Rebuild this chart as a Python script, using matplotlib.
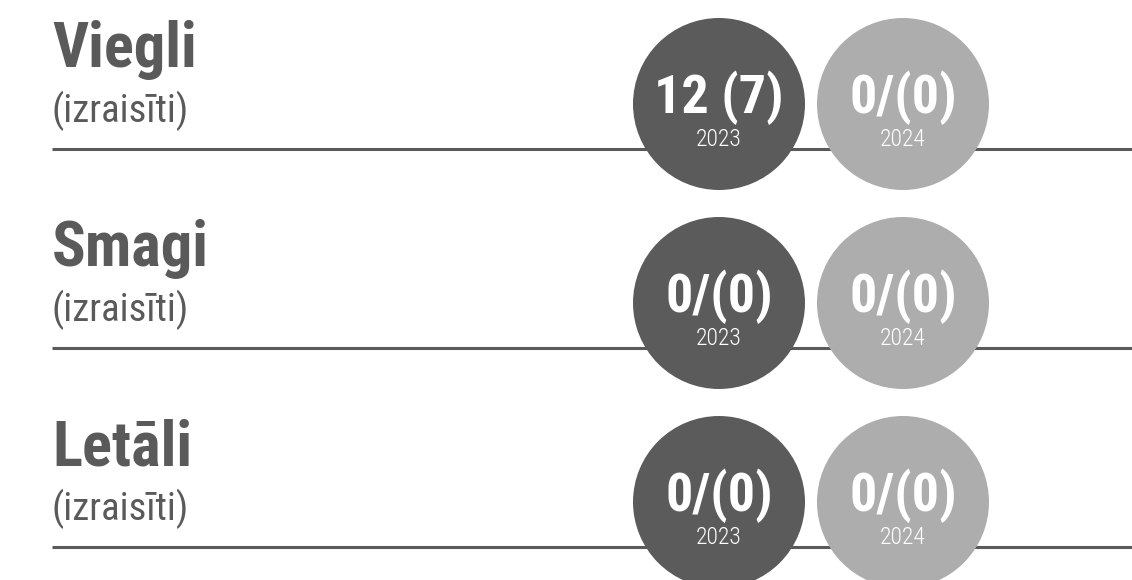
import matplotlib
matplotlib.use("Agg")
import matplotlib.pyplot as plt
from matplotlib.patches import Circle

# data
categories = ["Viegli", "Smagi", "Letāli"]
subtitle = "(izraisīti)"
years = ["2023", "2024"]
values_2023 = ["12 (7)", "0/(0)", "0/(0)"]
values_2024 = ["0/(0)", "0/(0)", "0/(0)"]

FONT = ["Roboto Condensed", "Roboto", "DejaVu Sans"]
DARK = "#5b5b5b"
LIGHT = "#adadad"
TEXT = "#5a5a5a"

W, H = 1132, 580
fig = plt.figure(figsize=(W / 100, H / 100), dpi=100)
ax = fig.add_axes([0, 0, 1, 1])
ax.set_xlim(0, W)
ax.set_ylim(H, 0)
ax.axis("off")

row_gap = 199
for i, cat in enumerate(categories):
    y0 = i * row_gap
    line_y = y0 + 149
    cy = y0 + 104
    ax.plot([52, W], [line_y, line_y], color=TEXT, lw=2.2, zorder=1,
            solid_capstyle="butt")
    ax.text(52, y0 + 67, cat, fontsize=45, fontweight="bold", color=TEXT,
            family=FONT, ha="left", va="baseline")
    ax.text(52, y0 + 122, subtitle, fontsize=28, color=TEXT,
            family=FONT, ha="left", va="baseline")
    for cx, col, val, yr in [(719, DARK, values_2023[i], years[0]),
                             (903, LIGHT, values_2024[i], years[1])]:
        ax.add_patch(Circle((cx, cy), 86, color=col, zorder=2, lw=0))
        ax.text(cx, cy + 9, val, fontsize=39, fontweight="bold", color="white",
                family=FONT, ha="center", va="baseline", zorder=3)
        ax.text(cx, cy + 42, yr, fontsize=17, color="white", fontweight="light",
                family=FONT, ha="center", va="baseline", zorder=3)

fig.savefig("out.png", dpi=100)
